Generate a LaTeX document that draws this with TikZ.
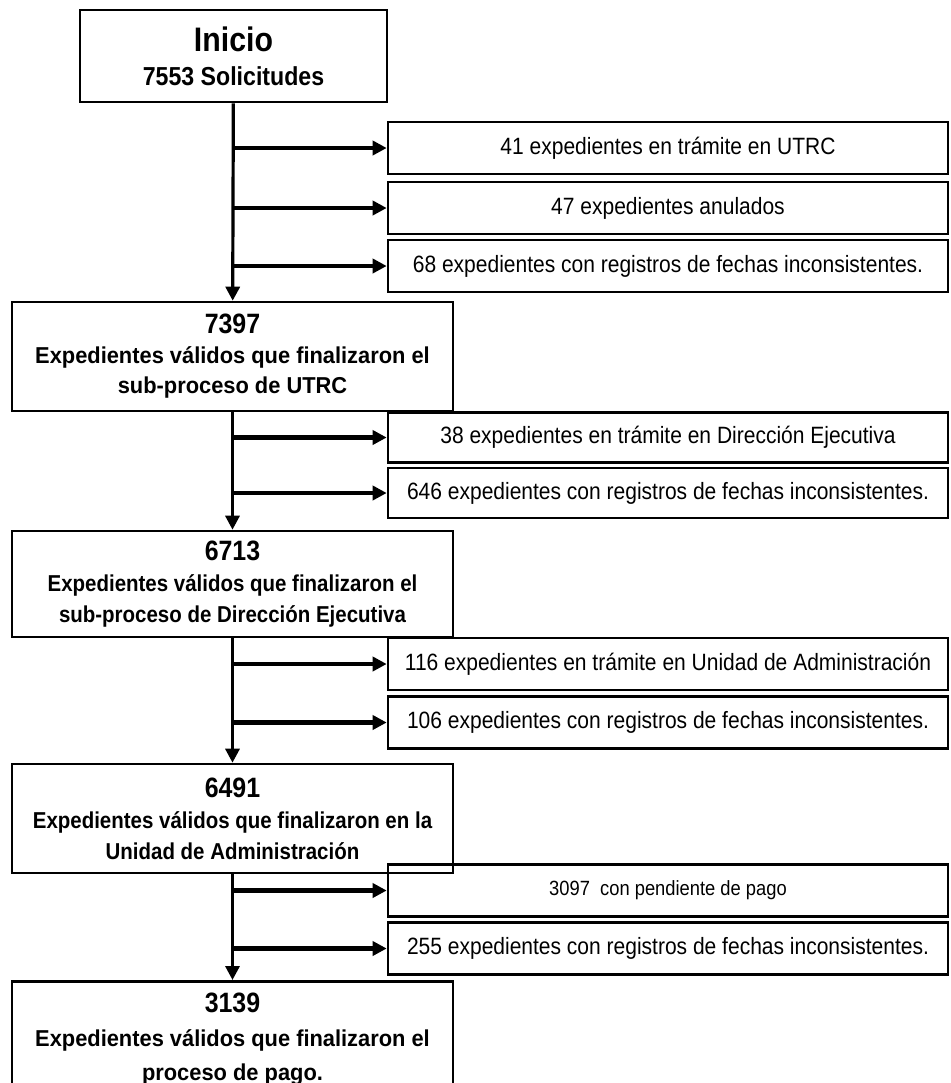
\documentclass[tikz,border=0pt]{standalone}
\usepackage{fontspec}
\setmainfont{Liberation Sans}
\newfontfamily\condfont[FakeStretch=0.89]{Liberation Sans}
\newfontfamily\semifont[FakeStretch=0.95]{Liberation Sans}
\usetikzlibrary{positioning,arrows.meta}

\newcommand{\headnum}[1]{{\condfont\fontsize{14}{15}\selectfont #1}}

\begin{document}
\begin{tikzpicture}[x=0.5pt, y=-0.5pt,
  mainbox/.style={draw, line width=1.3pt, minimum width=220.5pt, minimum height=54.5pt, align=center, inner sep=0pt, font=\bfseries\fontsize{11.5}{15}\selectfont},
  sidebox/.style={draw, line width=1.3pt, minimum width=280pt, minimum height=26pt, inner sep=0pt, font=\condfont\fontsize{11.8}{13}\selectfont},
  trunk/.style={line width=1.6pt, -{Triangle[length=7pt,width=7pt]}},
  branch/.style={line width=2.3pt, -{Triangle[length=7pt,width=7pt]}}]
  \useasboundingbox (0,0) rectangle (950,1083);

  % start and the four stages
  \node[draw, line width=1.3pt, minimum width=153.5pt, minimum height=46pt, align=center, inner sep=0pt, font=\bfseries\condfont\fontsize{13}{17}\selectfont] (inicio) at (233.5,56)
    {{\fontsize{17}{17}\selectfont Inicio}\\7553 Solicitudes};
  \node[mainbox, font=\bfseries\semifont\fontsize{11.5}{15}\selectfont] (utrc) at (232.5,356.5) {\headnum{7397}\\Expedientes válidos que finalizaron el\\sub-proceso de UTRC};
  \node[mainbox, minimum height=53pt, font=\bfseries\condfont\fontsize{11.5}{15.5}\selectfont] (dir) at (232.5,584) {\headnum{6713}\\Expedientes válidos que finalizaron el\\sub-proceso de Dirección Ejecutiva};
  \node[mainbox, font=\bfseries\condfont\fontsize{11.5}{15.5}\selectfont] (adm) at (232.5,818.5) {\headnum{6491}\\Expedientes válidos que finalizaron en la\\Unidad de Administración};
  \node[mainbox, anchor=north, minimum height=58pt, font=\bfseries\semifont\fontsize{11.5}{17}\selectfont] (pago) at (232.5,980) {\headnum{3139}\\Expedientes válidos que finalizaron el\\proceso de pago.};

  % excluded files
  \node[sidebox] (e1) at (668,148) {41 expedientes en trámite en UTRC};
  \node[sidebox] (e2) at (668,208) {47 expedientes anulados};
  \node[sidebox] (e3) at (668,266) {68 expedientes con registros de fechas inconsistentes.};
  \node[sidebox, minimum height=25pt] (e4) at (668,437.5) {38 expedientes en trámite en Dirección Ejecutiva};
  \node[sidebox, minimum height=25pt] (e5) at (668,493) {646 expedientes con registros de fechas inconsistentes.};
  \node[sidebox] (e6) at (668,664) {116 expedientes en trámite en Unidad de Administración};
  \node[sidebox] (e7) at (668,722.5) {106 expedientes con registros de fechas inconsistentes.};
  \node[sidebox, font=\condfont\fontsize{10.3}{11}\selectfont] (e8) at (668,890.5) {3097\ \ con pendiente de pago};
  \node[sidebox] (e9) at (668,948.5) {255 expedientes con registros de fechas inconsistentes.};

  \draw[trunk] (inicio) -- (utrc);
  \draw[trunk] (utrc) -- (dir);
  \draw[trunk] (dir) -- (adm);
  \draw[trunk] (adm) -- (pago);
  \foreach \e in {e1,e2,e3}
    \draw[branch] (inicio.south |- \e) -- (\e);
  \foreach \e in {e4,e5}
    \draw[branch] (utrc.south |- \e) -- (\e);
  \foreach \e in {e6,e7}
    \draw[branch] (dir.south |- \e) -- (\e);
  \foreach \e in {e8,e9}
    \draw[branch] (adm.south |- \e) -- (\e);
\end{tikzpicture}
\end{document}
